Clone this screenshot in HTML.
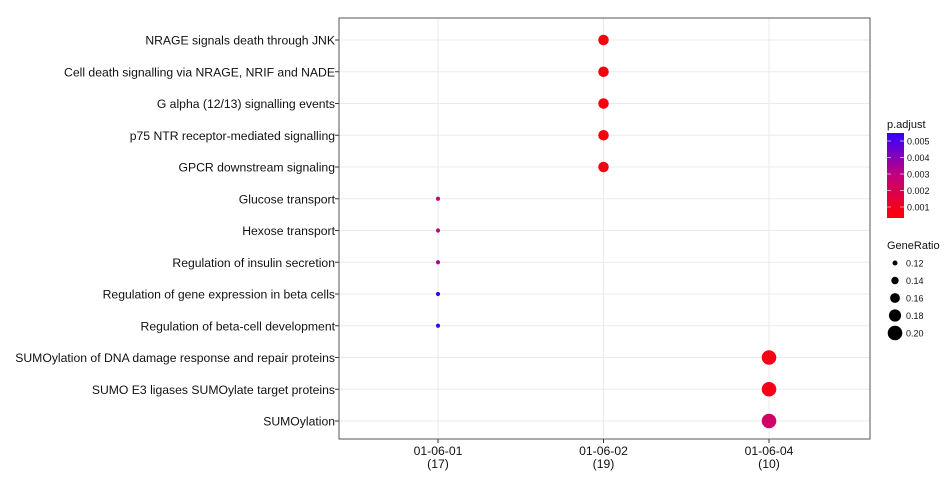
<!DOCTYPE html>
<html><head><meta charset="utf-8"><style>
body{margin:0;background:#fff;font-family:"Liberation Sans",sans-serif}
</style></head><body>
<svg id="chart" width="950" height="480" xmlns="http://www.w3.org/2000/svg">
<defs><linearGradient id="grad" x1="0" y1="1" x2="0" y2="0">
<stop offset="0" stop-color="#ff0000"/><stop offset="0.5" stop-color="#c4007e"/><stop offset="1" stop-color="#3300ff"/></linearGradient></defs>
<g id="plot"></g>
</svg>
<script>
const categories=["NRAGE signals death through JNK","Cell death signalling via NRAGE, NRIF and NADE","G alpha (12/13) signalling events","p75 NTR receptor-mediated signalling","GPCR downstream signaling","Glucose transport","Hexose transport","Regulation of insulin secretion","Regulation of gene expression in beta cells","Regulation of beta-cell development","SUMOylation of DNA damage response and repair proteins","SUMO E3 ligases SUMOylate target proteins","SUMOylation"];
const clusters=["01-06-01\n(17)","01-06-02\n(19)","01-06-04\n(10)"];
const pointCluster=[1,1,1,1,1,0,0,0,0,0,2,2,2];
const geneRatio=[0.166,0.166,0.166,0.166,0.166,0.113,0.113,0.113,0.113,0.113,0.2,0.2,0.2];
const pAdjust=[0.0003,0.0003,0.0003,0.0003,0.0004,0.0026,0.0029,0.0033,0.0055,0.0055,0.0005,0.0005,0.0023];
const ratioTicks=[0.12,0.14,0.16,0.18,0.20];
const pTicks=[0.001,0.002,0.003,0.004,0.005];
const NS="http://www.w3.org/2000/svg";
const g=document.getElementById('plot');
function mk(t,a,p){const e=document.createElementNS(NS,t);for(const k in a)e.setAttribute(k,a[k]);(p||g).appendChild(e);return e;}
const L=339,R=870,T=18,B=439;
const yS=i=>40+i*(421-40)/(categories.length-1);
const xS=c=>438+c*(769-438)/(clusters.length-1);
const rS=v=>2.5+(v-0.12)*60;
function col(p){const t=Math.min(1,Math.max(0,p/0.0058));const s=[[255,0,0],[196,0,126],[51,0,255]];let a,b,f;if(t<0.5){a=s[0];b=s[1];f=t/0.5}else{a=s[1];b=s[2];f=(t-0.5)/0.5}return `rgb(${a.map((v,i)=>Math.round(v+(b[i]-v)*f)).join(',')})`;}
const panel=mk('rect',{x:L,y:T,width:R-L,height:B-T,fill:'#fff'});

categories.forEach((c,i)=>{const y=yS(i);
const gl=mk('line',{x1:L,x2:R,y1:y,y2:y,stroke:'#ebebeb','stroke-width':1});

mk('line',{x1:L-4,x2:L,y1:y,y2:y,stroke:'#333'});
const t=mk('text',{x:L-4,y:y+4.5,'text-anchor':'end','font-size':12.2,fill:'#111'});t.textContent=c;
});
clusters.forEach((c,i)=>{const x=xS(i);
const gl=mk('line',{x1:x,x2:x,y1:T,y2:B,stroke:'#ebebeb'});

mk('line',{x1:x,x2:x,y1:B,y2:B+4,stroke:'#333'});
c.split('\n').forEach((s,k)=>{const t=mk('text',{x:x,y:455+k*13,'text-anchor':'middle','font-size':12.2,fill:'#111'});t.textContent=s;
});});
const bd=mk('rect',{x:L,y:T,width:R-L,height:B-T,fill:'none',stroke:'#555','stroke-width':1});

categories.forEach((c,i)=>{const p=mk('circle',{cx:xS(pointCluster[i]),cy:yS(i),r:rS(geneRatio[i]),fill:col(pAdjust[i])});
});
let t=mk('text',{x:887,y:128,'font-size':11,fill:'#111'});t.textContent='p.adjust';

const cb=mk('rect',{x:887,y:133,width:17,height:85,fill:'url(#grad)'});

const pY=v=>207-(v-0.001)/(0.004)*66;
pTicks.forEach(v=>{const y=pY(v);mk('line',{x1:887,x2:891,y1:y,y2:y,stroke:'#fff','stroke-opacity':0.6});mk('line',{x1:900,x2:904,y1:y,y2:y,stroke:'#fff','stroke-opacity':0.6});
const l=mk('text',{x:907,y:y+3.5,'font-size':9,fill:'#111'});l.textContent=v.toFixed(3);
});
t=mk('text',{x:887,y:249,'font-size':11,fill:'#111'});t.textContent='GeneRatio';

ratioTicks.forEach((v,k)=>{const y=263+k*17.5;const c=mk('circle',{cx:895,cy:y,r:rS(v),fill:'#000'});

const l=mk('text',{x:906,y:y+3.5,'font-size':9,fill:'#111'});l.textContent=v.toFixed(2);
});
</script>
</body></html>
